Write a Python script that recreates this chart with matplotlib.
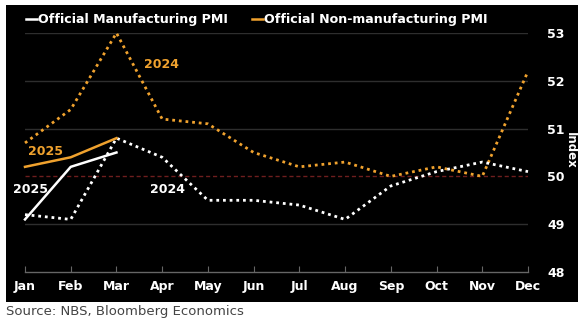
import matplotlib.pyplot as plt
from matplotlib.patches import Rectangle

months = ["Jan", "Feb", "Mar", "Apr", "May", "Jun",
          "Jul", "Aug", "Sep", "Oct", "Nov", "Dec"]

mfg_2024 = [49.2, 49.1, 50.8, 50.4, 49.5, 49.5, 49.4, 49.1, 49.8, 50.1, 50.3, 50.1]
nonmfg_2024 = [50.7, 51.4, 53.0, 51.2, 51.1, 50.5, 50.2, 50.3, 50.0, 50.2, 50.0, 52.2]
mfg_2025 = [49.1, 50.2, 50.5]
nonmfg_2025 = [50.2, 50.4, 50.8]

yticks = [48, 49, 50, 51, 52, 53]

ORANGE = "#f0a22e"
WHITE = "#ffffff"
GRID = "#2e2e2e"
BOLD = dict(fontweight="bold", family="DejaVu Sans")

fig = plt.figure(figsize=(5.88, 3.22), dpi=100, facecolor="white")
fig.patches.append(Rectangle((6 / 588, 1 - 302 / 322), 572 / 588, 297 / 322,
                             transform=fig.transFigure, facecolor="black",
                             edgecolor="none", zorder=-10))

ax = fig.add_axes([25 / 588, 1 - 272 / 322, 503 / 588, 239 / 322])
ax.set_facecolor("black")
ax.set_xlim(0, 11)
ax.set_ylim(48, 53)

x = list(range(len(months)))

# gridlines
for y in yticks[1:]:
    if y == 50:
        ax.axhline(y, color="#6e1e1e", lw=1, ls=(0, (3, 2)), zorder=1)
    else:
        ax.axhline(y, color=GRID, lw=1, zorder=1)

dot = (0, (1, 1.4))
ax.plot(x, nonmfg_2024, color=ORANGE, lw=2, ls=dot, clip_on=False, zorder=3)
ax.plot(x, mfg_2024, color=WHITE, lw=2, ls=dot, clip_on=False, zorder=3)
ax.plot(x[:3], nonmfg_2025, color=ORANGE, lw=1.8, clip_on=False, zorder=4)
ax.plot(x[:3], mfg_2025, color=WHITE, lw=1.8, clip_on=False, zorder=4)

ax.text(2.6, 52.35, "2024", color=ORANGE, fontsize=9, va="center", **BOLD)
ax.text(0.06, 50.52, "2025", color=ORANGE, fontsize=9, va="center", **BOLD)
ax.text(-0.26, 49.72, "2025", color=WHITE, fontsize=9, va="center", **BOLD)
ax.text(2.74, 49.72, "2024", color=WHITE, fontsize=9, va="center", **BOLD)

for s in ["top", "left", "right"]:
    ax.spines[s].set_visible(False)
ax.spines["bottom"].set_color("#666666")
ax.spines["bottom"].set_linewidth(1)

ax.set_xticks(x)
ax.set_xticklabels(months)
ax.tick_params(axis="x", direction="in", length=4, color="#666666",
               labelcolor=WHITE, labelsize=9, pad=6)
for lbl in ax.get_xticklabels():
    lbl.set_fontweight("bold")

ax.yaxis.tick_right()
ax.set_yticks(yticks)
ax.tick_params(axis="y", length=0, labelcolor=WHITE, labelsize=9, pad=14)
for lbl in ax.get_yticklabels():
    lbl.set_fontweight("bold")

fig.text(570 / 588, 1 - 150 / 322, "Index", rotation=270, color=WHITE,
         fontsize=8.5, ha="center", va="center", **BOLD)

# legend
fig.lines.append(plt.Line2D([26 / 588, 37 / 588], [1 - 19 / 322] * 2,
                            transform=fig.transFigure, color=WHITE, lw=1.8))
fig.text(38 / 588, 1 - 19 / 322, "Official Manufacturing PMI", color=WHITE,
         fontsize=9.1, va="center", **BOLD)
fig.lines.append(plt.Line2D([252 / 588, 263 / 588], [1 - 19 / 322] * 2,
                            transform=fig.transFigure, color=ORANGE, lw=1.8))
fig.text(264 / 588, 1 - 19 / 322, "Official Non-manufacturing PMI", color=WHITE,
         fontsize=9.1, va="center", **BOLD)

fig.text(6 / 588, 1 - 312 / 322, "Source: NBS, Bloomberg Economics",
         color="#444444", fontsize=9.5, va="center", family="DejaVu Sans")

fig.savefig("out.png", dpi=100, facecolor="white")
